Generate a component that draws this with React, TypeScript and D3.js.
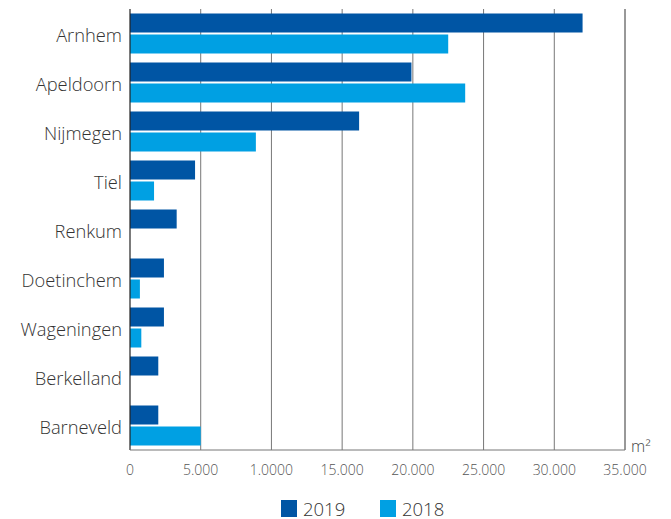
import React from "react";
import * as d3 from "d3";

const categories = ["Arnhem", "Apeldoorn", "Nijmegen", "Tiel", "Renkum", "Doetinchem", "Wageningen", "Berkelland", "Barneveld"];
const values2019 = [32000, 19900, 16200, 4600, 3300, 2400, 2400, 2000, 2000];
const values2018 = [22500, 23700, 8900, 1700, 0, 700, 800, 0, 5000];
const tickValues = [0, 5000, 10000, 15000, 20000, 25000, 30000, 35000];
const tickLabels = ["0", "5.000", "1.0000", "15.000", "20.000", "25.000", "30.000", "35.000"];
const seriesNames = ["2019", "2018"];
const colors = ["#0055A4", "#00A0E3"];

export default function App() {
  const W = 671, H = 519;
  const left = 130, right = 625, top = 9, bottom = 450;
  const x = d3.scaleLinear().domain([0, 35000]).range([left, right]);
  const y = d3.scaleBand().domain(categories).range([top, bottom]).paddingInner(0).paddingOuter(0);
  const bw = y.bandwidth();
  const barH = 19, gap = 2;
  const off = (bw - (2 * barH + gap)) / 2;
  const font = "'Open Sans', Lato, sans-serif";
  return (
    <svg width={W} height={H} style={{ position: "absolute", left: 0, top: 0 }}>
      {tickValues.slice(1).map((t, i) => (
        <line key={"g" + i} x1={x(t)} x2={x(t)} y1={top} y2={bottom} stroke={t === 35000 ? "#333" : "#777"} strokeWidth={1} />
      ))}
      {categories.map((c, i) => (
        <g key={c}>
          <rect x={x(0)} y={(y(c) as number) + off} width={x(values2019[i]) - x(0)} height={barH} fill={colors[0]} />
          <rect x={x(0)} y={(y(c) as number) + off + barH + gap} width={x(values2018[i]) - x(0)} height={barH} fill={colors[1]} />
          <text x={122} y={(y(c) as number) + bw / 2 + 8.5} textAnchor="end" fontFamily={font} fontWeight={300} fontSize={18.3} fill="#333">{c}</text>
        </g>
      ))}
      <line x1={left} x2={left} y1={top} y2={bottom} stroke="#222" strokeWidth={1.2} />
      <line x1={left} x2={right} y1={bottom} y2={bottom} stroke="#777" strokeWidth={1} />
      {tickValues.map((t, i) => (
        <text key={"t" + i} x={x(t)} y={475} textAnchor="middle" fontFamily={font} fontWeight={300} fontSize={14} fill="#555">{tickLabels[i]}</text>
      ))}
      <text x={631} y={451.5} fontFamily={font} fontWeight={300} fontSize={16} fill="#444">m²</text>
      {seriesNames.map((s, i) => (
        <g key={s} transform={`translate(${281 + i * 99},500)`}>
          <rect x={0} y={0} width={16} height={17} fill={colors[i]} />
          <text x={22} y={15.5} fontFamily={font} fontWeight={300} fontSize={18.5} fill="#333">{s}</text>
        </g>
      ))}
    </svg>
  );
}
